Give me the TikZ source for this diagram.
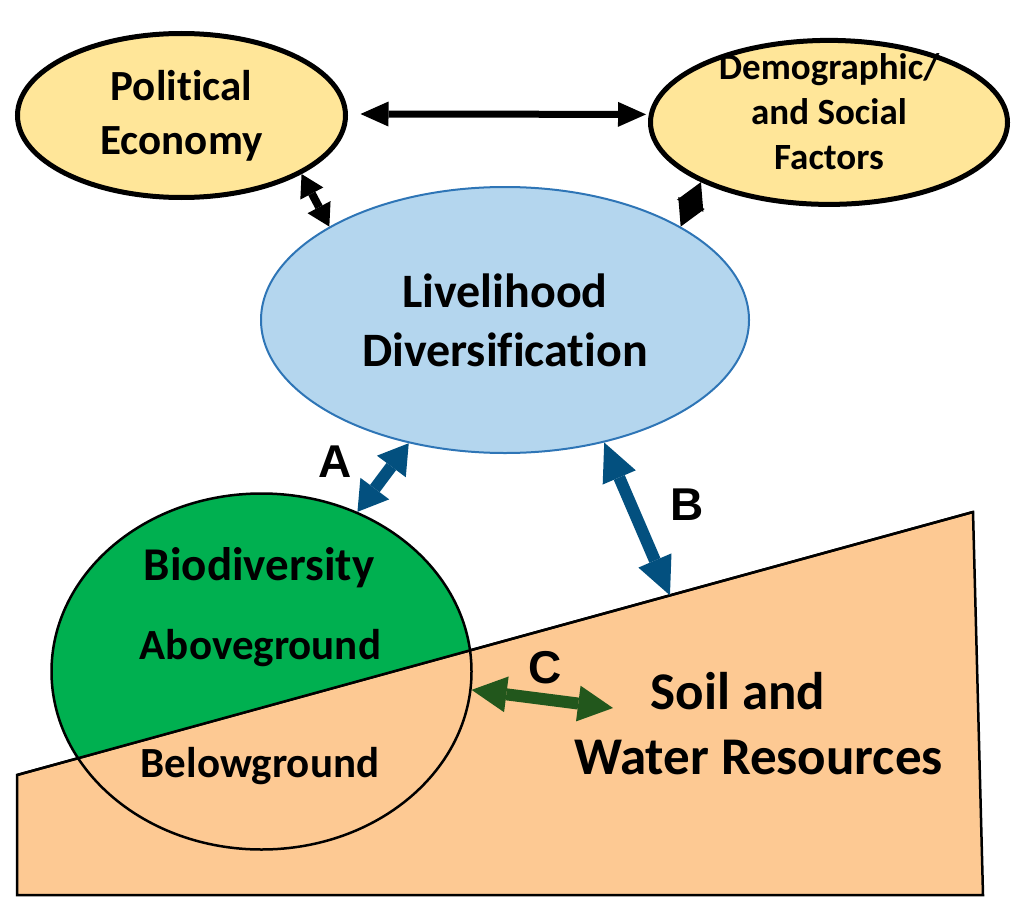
\documentclass[tikz,border=0pt]{standalone}
\usepackage{fontspec}
\setmainfont{Carlito}[Ligatures=NoCommon]
\newfontfamily\labfont{Liberation Sans}
\usetikzlibrary{shapes.geometric,arrows.meta,calc}
\definecolor{yel}{HTML}{FFE699}
\definecolor{ldfill}{HTML}{B4D6EE}
\definecolor{ldline}{HTML}{2E75B6}
\definecolor{biogreen}{HTML}{00B050}
\definecolor{peach}{HTML}{FDC993}
\definecolor{arrblue}{HTML}{03507F}
\definecolor{arrgreen}{HTML}{22571C}
\begin{document}
\begin{tikzpicture}[x=1pt,y=-1pt,
  factor/.style={ellipse, draw=black, line width=5pt, fill=yel, inner sep=0pt},
  txt/.style={inner sep=0pt, align=center, text=black},
  lab/.style={font=\labfont\bfseries\fontsize{46}{50}\selectfont, anchor=base, inner sep=0pt},
  dbl/.style n args={4}{line width=#1, draw=#2, {Triangle[width=#3,length=#4,line width=0pt]}-{Triangle[width=#3,length=#4,line width=0pt]}}
]
\useasboundingbox (0,0) rectangle (1024,915);

% top factors
\node[factor, minimum width=328pt, minimum height=164pt,
      font=\bfseries\fontsize{43}{54}\selectfont, align=center] (pe) at (181.5,115.5) {Political\\Economy};
\node[factor, minimum width=357pt, minimum height=164pt] (demo) at (829,122.4) {};
\node[txt, font=\bfseries\fontsize{37}{45}\selectfont] (demot) at ($(demo.center)+(0,-10.7)$) {Demographic/\\and Social\\Factors};

% livelihood
\node[ellipse, draw=ldline, line width=2pt, fill=ldfill, minimum width=488pt, minimum height=266pt,
      inner sep=0pt, font=\bfseries\fontsize{48}{59}\selectfont, align=center] (ld) at (505,320) {Livelihood\\Diversification};

% soil wedge
\coordinate (sl) at (17,775);
\coordinate (sr) at (973,512);
\coordinate (br) at (983,895);
\coordinate (bl) at (17,895);
\draw[line width=2.5pt, fill=peach] (sl) -- (sr) -- (br) -- (bl) -- cycle;

% biodiversity ellipse (green above ground)
\node[ellipse, draw=black, line width=2.5pt, minimum width=420pt, minimum height=356pt, inner sep=0pt,
      path picture={\fill[biogreen] ($(sl)+(-100,27.5)$) -- ($(sr)+(100,-27.5)$) -- ($(sr)+(100,-600)$) -- ($(sl)+(-100,-600)$) -- cycle;}]
      (bio) at (261.5,671.5) {};
\draw[line width=2.5pt] (sl) -- (sr);

\node[txt, anchor=base, font=\bfseries\fontsize{47}{56}\selectfont] (biot) at (259,580) {Biodiversity};
\node[txt, anchor=base, font=\bfseries\fontsize{43}{52}\selectfont] (above) at (260.5,659) {Aboveground};
\node[txt, anchor=base, font=\bfseries\fontsize{43}{52}\selectfont] (below) at (260,777) {Belowground};

\node[txt, font=\bfseries\fontsize{53}{65}\selectfont] (soil) at (758.5,724) {Soil and\hbox{\kern41pt}\\Water Resources};

% labels
\node[lab] (la) at (335,477) {A};
\node[lab] (lb) at (687,520) {B};
\node[lab] (lc) at (545,683) {C};

% connectors
\coordinate (slB) at ($(sl)!0.683!(sr)$);
\coordinate (cEnd) at (613,708);
\draw[dbl={7pt}{black}{25pt}{28pt}] ($(pe.east)+(12.5,-1.5)$) -- ($(demo.west)+(-2,-8)$);
\draw[dbl={8pt}{black}{26pt}{22pt}] (pe.-26) -- (ld.152);
\draw[dbl={4pt}{black}{29pt}{26pt}] (demo.205) -- (ld.28);
\draw[dbl={12pt}{arrblue}{36pt}{29pt}] (ld.232) -- (bio.59);
\draw[dbl={12pt}{arrblue}{36pt}{38pt}] (ld.-51) -- (slB);
\draw[dbl={12pt}{arrgreen}{36pt}{35pt}] (bio.-5) -- (cEnd);
\end{tikzpicture}
\end{document}
